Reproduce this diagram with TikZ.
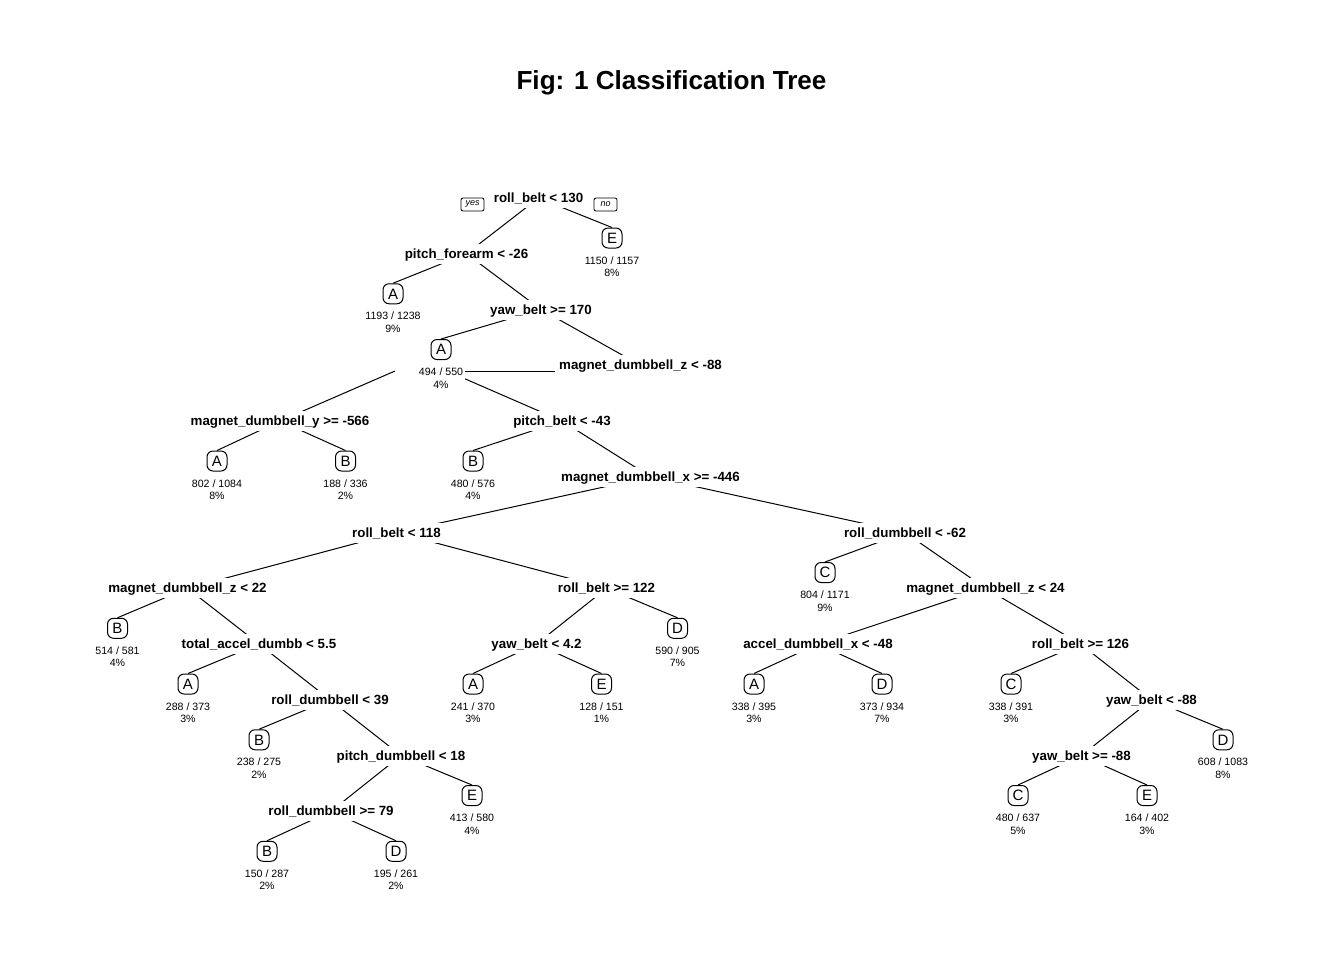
\documentclass[tikz,border=0pt]{standalone}
\usepackage{fontspec}
\setmainfont{Liberation Sans}
\usetikzlibrary{backgrounds}

% split label: bold text on a white patch that hides the branches behind it
\newcommand\splitnode[4]{\node[split] (#1) at (#2,#3) {#4};}
% leaf: rounded class box with the counts underneath
\newcommand\leafnode[6]{%
  \node[leafbox] (#1) at (#2,#3) {#4};
  \node[cnt] (#1c) at (#2,#3+15) {#5\\#6};}

\begin{document}
\begin{tikzpicture}[x=0.5pt,y=-0.5pt,
  split/.style={fill=white, inner xsep=2pt, inner ysep=2.25pt,
    text height=5pt, text depth=0.5pt,
    font=\fontsize{6.67}{8}\selectfont\bfseries},
  leafbox/.style={draw, line width=0.5pt, fill=white, rounded corners=3pt,
    minimum width=10pt, minimum height=10pt, inner sep=0pt,
    text height=5.4pt, text depth=0pt, font=\fontsize{7.5}{9}\selectfont},
  cnt/.style={fill=white, inner xsep=1pt, inner ysep=1.5pt, align=center,
    anchor=north, font=\fontsize{5.3}{6.25}\selectfont},
  edge/.style={line width=0.5pt},
  yn/.style={draw, line width=0.4pt, rounded corners=1pt,
    minimum width=11.5pt, minimum height=6.5pt, inner sep=0pt,
    font=\fontsize{4.5}{5}\selectfont\itshape}]
\useasboundingbox (0,0) rectangle (1344,960);

\node[font=\fontsize{13.05}{15}\selectfont\bfseries, anchor=base] (title)
  at (671.5,89.3) {Fig: 1 Classification Tree};

% split nodes
\splitnode{n1}{538.5}{198}{roll\_belt < 130}
\splitnode{n2}{466.5}{253.75}{pitch\_forearm < -26}
\splitnode{n3}{541}{309.5}{yaw\_belt >= 170}
\splitnode{n4}{640.5}{365.25}{magnet\_dumbbell\_z < -88}
\splitnode{n5}{280}{421}{magnet\_dumbbell\_y >= -566}
\splitnode{n6}{562}{421}{pitch\_belt < -43}
\splitnode{n7}{650.5}{476.75}{magnet\_dumbbell\_x >= -446}
\splitnode{n8}{396.5}{532.5}{roll\_belt < 118}
\splitnode{n9}{905}{532.5}{roll\_dumbbell < -62}
\splitnode{n10}{187.5}{588.25}{magnet\_dumbbell\_z < 22}
\splitnode{n11}{606.5}{588.25}{roll\_belt >= 122}
\splitnode{n12}{985.5}{588.25}{magnet\_dumbbell\_z < 24}
\splitnode{n13}{259}{644}{total\_accel\_dumbb < 5.5}
\splitnode{n14}{536.5}{644}{yaw\_belt < 4.2}
\splitnode{n15}{818}{644}{accel\_dumbbell\_x < -48}
\splitnode{n16}{1080.5}{644}{roll\_belt >= 126}
\splitnode{n17}{330}{699.75}{roll\_dumbbell < 39}
\splitnode{n18}{1151.5}{699.75}{yaw\_belt < -88}
\splitnode{n19}{401}{755.5}{pitch\_dumbbell < 18}
\splitnode{n20}{1081.5}{755.5}{yaw\_belt >= -88}
\splitnode{n21}{331}{811.25}{roll\_dumbbell >= 79}

% leaves
\leafnode{lf1}{612}{238}{E}{1150 / 1157}{8\%}
\leafnode{lf2}{393}{293.75}{A}{1193 / 1238}{9\%}
\leafnode{lf3}{441}{349.5}{A}{494 / 550}{4\%}
\leafnode{lf4}{217}{461}{A}{802 / 1084}{8\%}
\leafnode{lf5}{345.5}{461}{B}{188 / 336}{2\%}
\leafnode{lf6}{473}{461}{B}{480 / 576}{4\%}
\leafnode{lf7}{825}{572.5}{C}{804 / 1171}{9\%}
\leafnode{lf8}{117.5}{628.25}{B}{514 / 581}{4\%}
\leafnode{lf9}{677.5}{628.25}{D}{590 / 905}{7\%}
\leafnode{lf10}{188}{684}{A}{288 / 373}{3\%}
\leafnode{lf11}{473}{684}{A}{241 / 370}{3\%}
\leafnode{lf12}{601.5}{684}{E}{128 / 151}{1\%}
\leafnode{lf13}{754}{684}{A}{338 / 395}{3\%}
\leafnode{lf14}{882}{684}{D}{373 / 934}{7\%}
\leafnode{lf15}{1011}{684}{C}{338 / 391}{3\%}
\leafnode{lf16}{259}{739.75}{B}{238 / 275}{2\%}
\leafnode{lf17}{1223}{739.75}{D}{608 / 1083}{8\%}
\leafnode{lf18}{472}{795.5}{E}{413 / 580}{4\%}
\leafnode{lf19}{1018}{795.5}{C}{480 / 637}{5\%}
\leafnode{lf20}{1147}{795.5}{E}{164 / 402}{3\%}
\leafnode{lf21}{267}{851.25}{B}{150 / 287}{2\%}
\leafnode{lf22}{396}{851.25}{D}{195 / 261}{2\%}

% yes / no tags beside the root
\node[yn] (yes) at (472.5,204.5) {yes};
\node[yn] (no) at (605.5,204.5) {no};

% shoulder points of the magnet_dumbbell_z < -88 split
\coordinate (mzL) at (395,371);
\coordinate (mzR) at (447,371);

\begin{scope}[on background layer]
  \foreach \a/\b in {n1/n2, n2/n3, n3/n4, n6/n7, n7/n8, n7/n9, n8/n10,
      n8/n11, n9/n12, n10/n13, n11/n14, n12/n15, n12/n16, n13/n17,
      n16/n18, n17/n19, n18/n20, n19/n21}
    \draw[edge] (\a.center) -- (\b.center);
  \foreach \a/\b in {n1/lf1, n2/lf2, n3/lf3, n5/lf4, n5/lf5, n6/lf6,
      n9/lf7, n10/lf8, n11/lf9, n13/lf10, n14/lf11, n14/lf12, n15/lf13,
      n15/lf14, n16/lf15, n17/lf16, n18/lf17, n19/lf18, n20/lf19,
      n20/lf20, n21/lf21, n21/lf22}
    \draw[edge] (\a.center) -- (\b.north);
  \draw[edge] (n5.center) -- (mzL);
  \draw[edge] (mzR) -- (n6.center);
  \draw[edge] (mzR) -- (n4.center |- mzR);
\end{scope}
\end{tikzpicture}
\end{document}
